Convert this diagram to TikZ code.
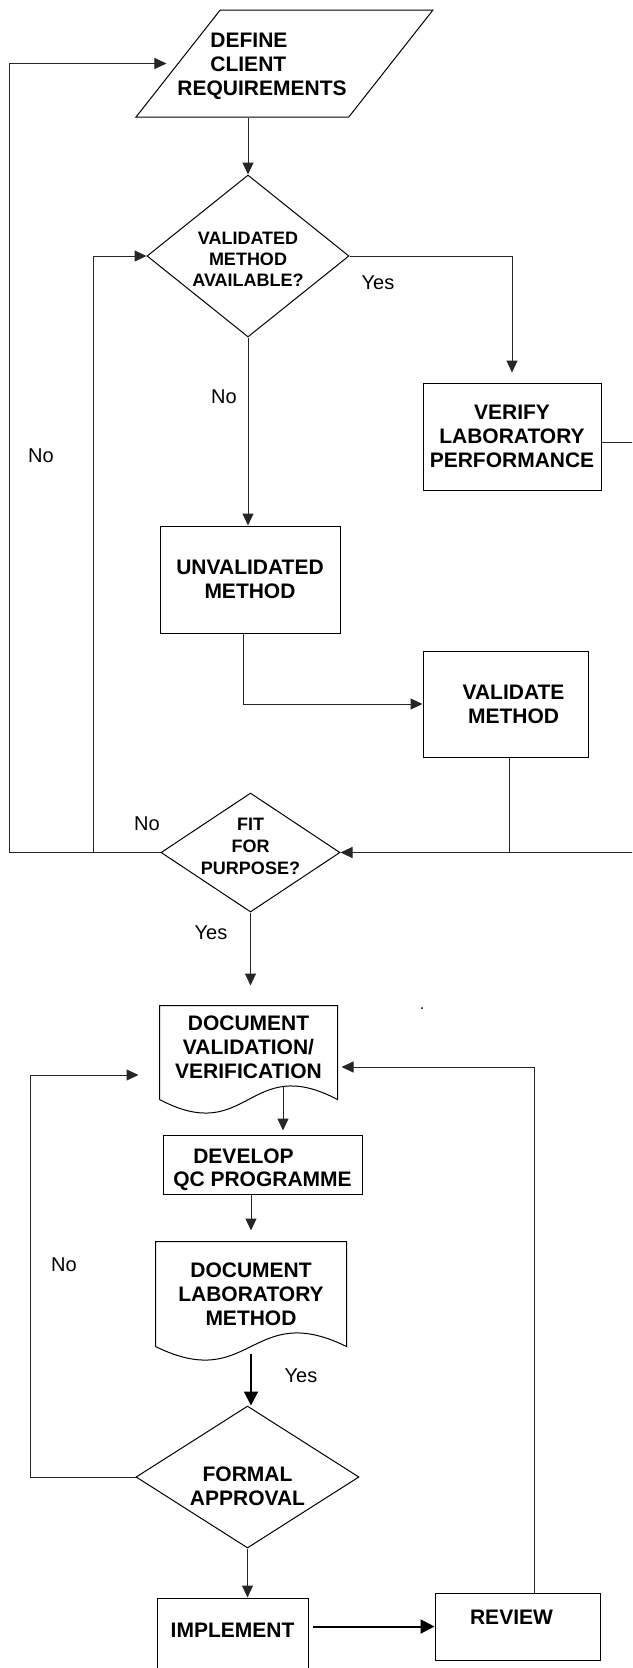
\documentclass[tikz,border=0pt]{standalone}
\usepackage{fontspec}
\setmainfont{Liberation Sans}
\usetikzlibrary{shapes.geometric,arrows.meta}

\begin{document}
\begin{tikzpicture}[x=1pt, y=-1pt, line width=1pt,
    box/.style={draw, rectangle, inner sep=0pt, align=center, font=\bfseries\fontsize{21}{24}\selectfont},
    doc/.style={rectangle, inner sep=0pt, align=center, font=\bfseries\fontsize{21}{24}\selectfont},
    decision/.style={draw, diamond, inner sep=0pt},
    io/.style={draw, trapezium, trapezium left angle=57.6, trapezium right angle=122.4,
      trapezium stretches=true, inner sep=0pt},
    txt/.style={inner sep=0pt, align=center, font=\bfseries\fontsize{21}{24}\selectfont},
    qtext/.style={txt, font=\bfseries\fontsize{18}{21}\selectfont},
    wire/.style={draw=black!85, line width=1pt},
    flow/.style={wire, -{Triangle[length=12pt,width=11pt]}},
    heavy/.style={draw=black, line width=2pt, -{Triangle[length=14pt,width=14pt]}},
    answer/.style={inner sep=0pt, font=\fontsize{20}{22}\selectfont}
  ]
  \clip (0,0) rectangle (632,1668);

  % loop-back lanes
  \coordinate (lane1) at (9,0);
  \coordinate (lane2) at (93,0);
  \coordinate (lane3) at (30,0);
  \coordinate (lane4) at (534,0);
  \coordinate (lane5) at (660,0);

  % upper part: method selection
  \node[io, minimum width=297pt, minimum height=107pt,
    label={[txt, align=left, xshift=-22.5pt, yshift=-3pt]center:{\hspace*{33pt}DEFINE\\\hspace*{33pt}CLIENT\\REQUIREMENTS}}]
    (define) at (284.5,63.5) {\phantom{X}};
  \node[decision, minimum width=202pt, minimum height=162pt,
    label={[qtext, yshift=-3.5pt]center:{VALIDATED\\METHOD\\AVAILABLE?}}]
    (valid) at (248,256) {};
  \node[box, minimum width=178pt, minimum height=107pt] (verify) at (512,436.5)
    {VERIFY\\LABORATORY\\PERFORMANCE};
  \node[box, minimum width=180pt, minimum height=107pt] (unval) at (250,579.5)
    {UNVALIDATED\\METHOD};
  \node[box, minimum width=165pt, minimum height=106pt] (validate) at (505.5,704)
    {\hspace*{16pt}VALIDATE\\\hspace*{16pt}METHOD};
  \node[decision, minimum width=179pt, minimum height=119pt,
    label={[qtext, yshift=6.5pt, font=\bfseries\fontsize{18}{22}\selectfont]center:{FIT\\FOR\\PURPOSE?}}]
    (fit) at (250.5,852.5) {};

  % lower part: documentation and approval
  \node[doc, minimum width=177pt, minimum height=93pt,
    label={[txt, yshift=5.5pt]center:{DOCUMENT\\VALIDATION/\\VERIFICATION}}]
    (docval) at (248.5,1052.5) {};
  \draw (docval.south west) -- (docval.north west) -- (docval.north east) -- (docval.south east)
    .. controls ([yshift=47pt]docval.south) and ([yshift=-47pt]docval.south) .. (docval.south west);
  \node[box, minimum width=199pt, minimum height=59pt,
    label={[txt, yshift=-5pt, font=\bfseries\fontsize{21}{23}\selectfont]center:{DEVELOP\hspace*{38pt}\\QC PROGRAMME}}]
    (develop) at (262.5,1164.5) {};
  \node[doc, minimum width=190pt, minimum height=104pt] (doclab) at (251,1294)
    {DOCUMENT\\LABORATORY\\METHOD};
  \draw (doclab.south west) -- (doclab.north west) -- (doclab.north east) -- (doclab.south east)
    .. controls ([yshift=47pt]doclab.south) and ([yshift=-47pt]doclab.south) .. (doclab.south west);
  \node[decision, minimum width=223pt, minimum height=142pt,
    label={[txt, yshift=-9pt]center:{FORMAL\\APPROVAL}}]
    (formal) at (247.5,1477) {};
  \node[box, minimum width=151pt, minimum height=84pt,
    label={[txt, yshift=10pt]center:IMPLEMENT}] (implement) at (232.5,1640) {};
  \node[box, minimum width=165pt, minimum height=67pt,
    label={[txt, yshift=9.5pt, xshift=-6pt]center:REVIEW}] (review) at (517.5,1626.5) {};

  \node[inner sep=0pt, font=\fontsize{16}{16}\selectfont] (dot) at (422,1009) {.};

  % answers
  \node[answer] (yes1) at (378,283) {Yes};
  \node[answer] (no1) at (224,397) {No};
  \node[answer] (no2) at (41,456) {No};
  \node[answer] (no3) at (147,824) {No};
  \node[answer] (yes2) at (211,933) {Yes};
  \node[answer] (no4) at (64,1265) {No};
  \node[answer] (yes3) at (301,1376) {Yes};

  % connectors
  \draw[flow] (define.south -| valid.north) -- (valid.north);
  \draw[flow, shorten >=10pt] (valid.east) -| (verify.north);
  \draw[flow] (valid.south) -- (valid.south |- unval.north);
  \draw[flow] ([xshift=-7pt]unval.south) |- (validate.west);
  \draw[wire] ([xshift=3.5pt]validate.south) -- ([xshift=3.5pt]validate.south |- fit.east);
  \draw[flow] ([yshift=-5.5pt]verify.east) -- ([yshift=-5.5pt]verify.east -| lane5) |- (fit.east);
  \draw[flow, shorten >=11pt] (fit.west) -- (fit.west -| lane1) |- (define.west);
  \draw[flow] (fit.west -| lane2) |- (valid.west);
  \draw[flow, shorten >=20pt] (fit.south) -- (fit.south |- docval.north);

  \draw[flow, shorten >=4pt] ([xshift=34.5pt, yshift=13pt]docval.south)
    -- ([xshift=34.5pt]docval.south |- develop.north);
  \draw[flow, shorten >=11pt] (develop.south -| doclab.north) -- (doclab.north);
  \draw[heavy, shorten <=7pt] (doclab.south) -- (doclab.south |- formal.north);
  \draw[flow, shorten >=21pt] (formal.west) -- (formal.west -| lane3)
    |- ([yshift=-22.5pt]docval.west);
  \draw[flow] (formal.south) -- (formal.south |- implement.north);
  \draw[heavy, shorten <=4pt] (implement.east |- review.west) -- (review.west);
  \draw[flow, shorten >=4pt] (review.north -| lane4) |- ([yshift=-14.5pt]docval.east);
\end{tikzpicture}
\end{document}
